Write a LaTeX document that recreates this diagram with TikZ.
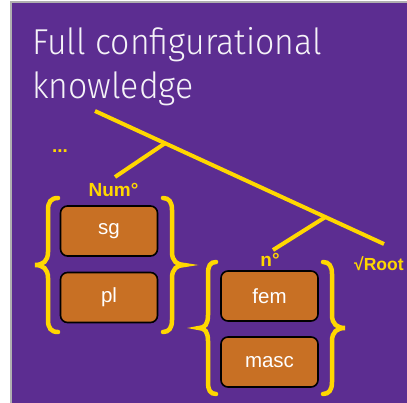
\documentclass[tikz,border=0pt]{standalone}
\usepackage{fontspec}
\setmainfont{Liberation Sans}
\newfontfamily\titlefont{Fira Sans Light}
\definecolor{slidepurple}{HTML}{5C2D91}
\definecolor{treegold}{HTML}{FFD700}
\definecolor{featorange}{HTML}{C87024}
\definecolor{frameline}{HTML}{B0B0B0}
\newcommand\narrowtitle[1]{\scalebox{0.94}[1]{#1}}

\begin{document}
\begin{tikzpicture}[x=1pt,y=-1pt,
  feat/.style={draw=black, line width=1.6pt, fill=featorange, rounded corners=7pt,
    minimum width=97pt, minimum height=50pt, inner sep=0pt, text=white,
    font=\fontsize{20.5}{24}\selectfont},
  branch/.style={draw=treegold, line width=4pt},
  curly/.style={draw=treegold, line width=4.5pt, line cap=round},
  lbl/.style={text=treegold, font=\bfseries\fontsize{19}{22}\selectfont, inner sep=0pt, anchor=base},
  title/.style={text=white!94!slidepurple, font=\titlefont\fontsize{36}{40}\selectfont,
    anchor=base west, inner sep=0pt}]

% page and slide background
\useasboundingbox (0,0) rectangle (407,403);
\fill[white] (0,0) rectangle (407,403);
\fill[frameline] (10,1) rectangle (407,403);
\fill[slidepurple] (12,3) rectangle (407,403);

% title
\node[title] (t1) at (32,55) {\narrowtitle{Full configurational}};
\node[title] (t2) at (32,99) {\narrowtitle{knowledge}};

% tree labels
\node[lbl] (dots) at (60,152.5) {...};
\node[lbl] (num) at (113.5,197) {Num°};
\node[lbl] (nlab) at (270,267) {n°};
\node[lbl, anchor=base west, font=\bfseries\fontsize{17.5}{21}\selectfont] (root) at (354,271) {√Root};

% tree lines
\coordinate (top) at (95,111);
\coordinate (rootend) at (384,244);
\coordinate (j1) at (165,143.3);
\coordinate (j2) at (325,217.3);
\coordinate (numend) at (115,177);
\coordinate (nend) at (273,250);
\draw[branch] (top) -- (rootend);
\draw[branch] (j1) -- (numend);
\draw[branch] (j2) -- (nend);

% feature boxes
\node[feat] (sg) at (109,231) {sg};
\node[feat] (pl) at (109,297.5) {pl};
\node[feat] (fem) at (269.5,296) {fem};
\node[feat] (masc) at (269.5,362) {masc};

% braces round the Num group
\draw[curly] (58,198) .. controls (51,198) and (48,202) .. (48,210) -- (48,252)
  .. controls (48,261) and (43,265) .. (35,265) .. controls (43,265) and (48,269) .. (48,278)
  -- (48,320) .. controls (48,328) and (51,332) .. (58,332);
\draw[curly] (163,198) .. controls (169,198) and (172,202) .. (172,210) -- (172,252)
  .. controls (172,261) and (177,265) .. (184,265) .. controls (177,265) and (172,269) .. (172,278)
  -- (172,320) .. controls (172,328) and (169,332) .. (163,332);

% braces round the n group
\draw[curly] (216,262) .. controls (210,262) and (208,266) .. (208,274) -- (208,315)
  .. controls (208,324) and (205,328) .. (199,328) .. controls (205,328) and (208,332) .. (208,341)
  -- (208,382) .. controls (208,390) and (210,394) .. (216,394);
\draw[curly] (323,262) .. controls (329,262) and (332,266) .. (332,274) -- (332,315)
  .. controls (332,324) and (337,328) .. (345,328) .. controls (337,328) and (332,332) .. (332,341)
  -- (332,382) .. controls (332,390) and (329,394) .. (323,394);
\end{tikzpicture}
\end{document}
